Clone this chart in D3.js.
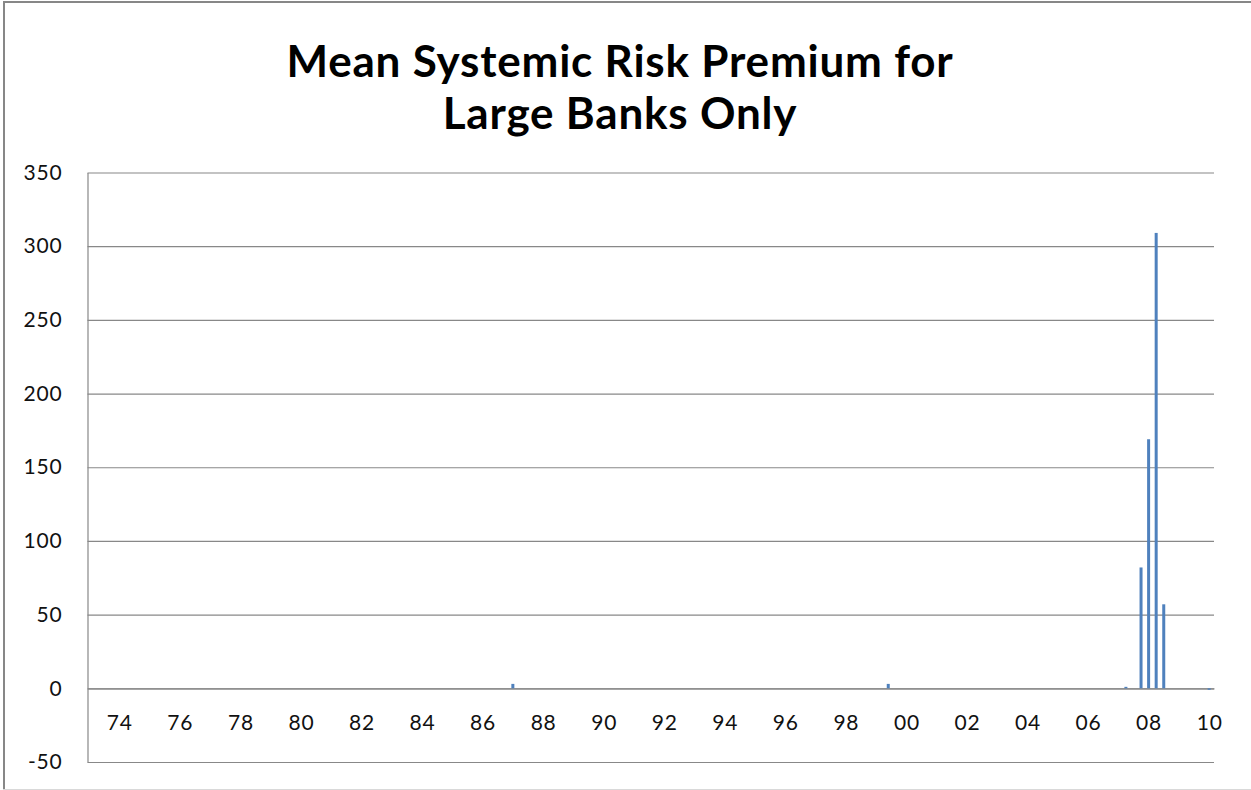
<!DOCTYPE html>
<html>
<head>
<meta charset="utf-8">
<script src="https://cdn.jsdelivr.net/npm/d3@7"></script>
<style>
  html, body { margin: 0; padding: 0; background: #fff; }
  svg { display: block; }
</style>
</head>
<body>
<svg id="chart" width="1251" height="790"></svg>
<script>
// ---- data ----
const titleLines = ["Mean Systemic Risk Premium for", "Large Banks Only"];
const periods = [1987.0, 1999.4, 2007.25, 2007.75, 2008.0, 2008.25, 2008.5, 2010.0]; // decimal years (quarters)
const premium = [3, 3, 1, 82, 169, 309, 57, -1];
const yTicks = [-50, 0, 50, 100, 150, 200, 250, 300, 350];
const xTicks = [1974, 1976, 1978, 1980, 1982, 1984, 1986, 1988, 1990, 1992, 1994, 1996, 1998, 2000, 2002, 2004, 2006, 2008, 2010];

const svg = d3.select("#chart");
const W = 1251, H = 790;
const plot = { left: 87.5, right: 1214, top: 172.5, bottom: 762 };

// outer chart border
svg.append("line").attr("x1", 4).attr("x2", 4).attr("y1", 1).attr("y2", H)
  .attr("stroke", "#878787").attr("stroke-width", 2);
svg.append("line").attr("x1", 3).attr("x2", W).attr("y1", 2).attr("y2", 2)
  .attr("stroke", "#878787").attr("stroke-width", 2);
svg.append("line").attr("x1", 3).attr("x2", W).attr("y1", 789.5).attr("y2", 789.5)
  .attr("stroke", "#d9d9d9").attr("stroke-width", 1);

// title
const title = svg.append("text")
  .attr("x", 620).attr("y", 77)
  .attr("text-anchor", "middle")
  .attr("font-family", "Lato, 'Open Sans', sans-serif")
  .attr("font-weight", "bold")
  .attr("font-size", 44)
  .attr("letter-spacing", 0.8)
  .attr("fill", "#000");
title.selectAll("tspan").data(titleLines).join("tspan")
  .attr("x", 620).attr("dy", (d, i) => i === 0 ? 0 : 52)
  .text(d => d);

// scales
const x = d3.scaleLinear().domain([1972.95, 2010.16]).range([plot.left, plot.right]);
const y = d3.scaleLinear().domain([-50, 350]).range([plot.bottom, plot.top]);

// gridlines
svg.append("g")
  .attr("transform", `translate(${plot.left},0)`)
  .call(d3.axisLeft(y).tickValues(yTicks).tickSize(-(plot.right - plot.left)).tickFormat(""))
  .call(g => g.select(".domain").remove())
  .call(g => g.selectAll(".tick line").attr("stroke", "#888").attr("stroke-width", 1.2));

// y axis
svg.append("g")
  .attr("transform", `translate(${plot.left},0)`)
  .call(d3.axisLeft(y).tickValues(yTicks).tickSize(0).tickPadding(25).tickFormat(d => String(d)))
  .call(g => g.select(".domain").attr("stroke", "#888").attr("stroke-width", 1.2))
  .call(g => g.selectAll(".tick text")
    .attr("font-family", "Lato, sans-serif").attr("font-size", 21)
    .attr("letter-spacing", 0.8).attr("fill", "#111"));

// x axis at y = 0
svg.append("g")
  .attr("transform", `translate(0,${y(0)})`)
  .call(d3.axisBottom(x).tickValues(xTicks).tickSize(0).tickSizeOuter(0).tickPadding(27)
    .tickFormat(d => String(d % 100).padStart(2, "0")))
  .call(g => g.select(".domain").attr("stroke", "#888").attr("stroke-width", 1.2))
  .call(g => g.selectAll(".tick text")
    .attr("font-family", "Lato, sans-serif").attr("font-size", 21)
    .attr("letter-spacing", 0.8).attr("fill", "#111"));

// bars
const barW = 3;
svg.append("g").selectAll("rect")
  .data(periods.map((p, i) => ({ p, v: premium[i] })))
  .join("rect")
  .attr("x", d => x(d.p) - barW / 2)
  .attr("y", d => Math.min(y(d.v), y(0)))
  .attr("width", barW)
  .attr("height", d => Math.max(1, Math.abs(y(d.v) - y(0))))
  .attr("fill", "#4F81BD");
</script>
</body>
</html>
